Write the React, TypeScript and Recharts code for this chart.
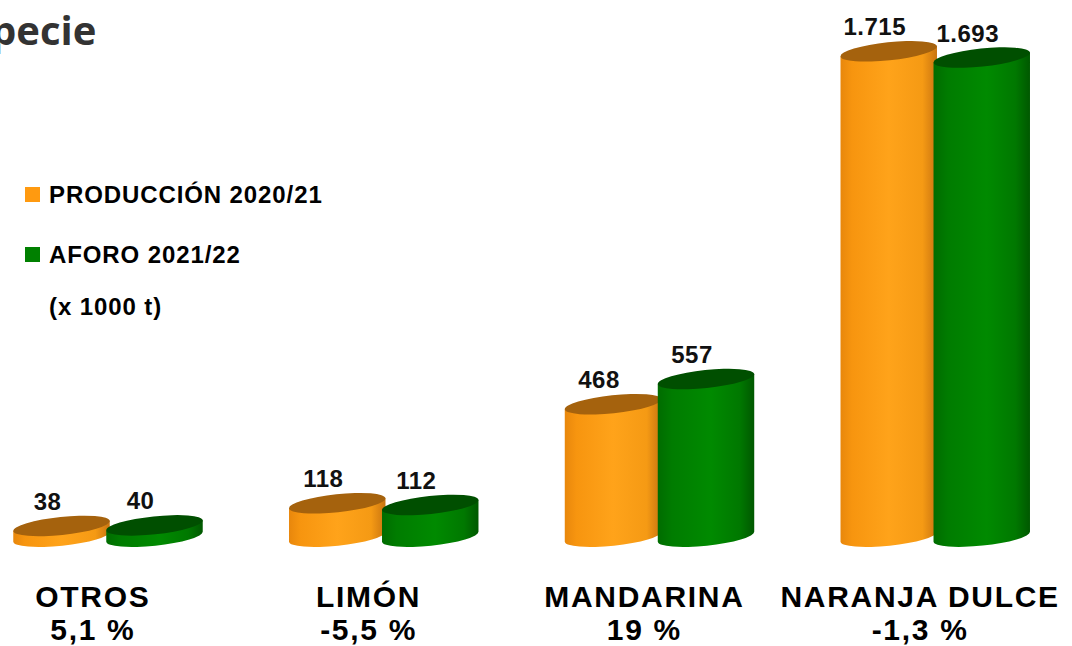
import React from "react";
import { BarChart, Bar, XAxis, YAxis } from "recharts";

const categories = ["OTROS", "LIMÓN", "MANDARINA", "NARANJA DULCE"];
const changes = ["5,1 %", "-5,5 %", "19 %", "-1,3 %"];
const produccion = [38, 118, 468, 1715];
const aforo = [40, 112, 557, 1693];

const SERIES = [
  { key: "produccion", name: "PRODUCCIÓN 2020/21", color: "#ff9a10", top: "#a5620d", grad: "gradOrange" },
  { key: "aforo", name: "AFORO 2021/22", color: "#008000", top: "#004f00", grad: "gradGreen" },
];

const data = categories.map((c, i) => ({
  name: c,
  produccion: produccion[i],
  aforo: aforo[i],
}));

const FONT = "'Liberation Sans', Arial, sans-serif";

// 1715 -> "1.715"
const fmt = (v: number) => String(v).replace(/\B(?=(\d{3})+(?!\d))/g, ".");

const ROT = -6;

function Cylinder(props: any) {
  const { x, y, width, height, grad, top } = props;
  if (width == null || height == null) return null;
  const rx = width / 2;
  const ry = 9;
  const cx = x + rx;
  const bottom = y + height;
  const a = (ROT * Math.PI) / 180;
  const dx = rx * Math.cos(a);
  const dy = rx * Math.sin(a);
  // left end sits lower, right end higher
  const lt = [cx - dx, y - dy];
  const rt = [cx + dx, y + dy];
  const lb = [cx - dx, bottom - dy];
  const rb = [cx + dx, bottom + dy];
  const body = `M${lt[0]},${lt[1]} L${lb[0]},${lb[1]} A${rx},${ry} ${ROT} 0 0 ${rb[0]},${rb[1]} L${rt[0]},${rt[1]} Z`;
  return (
    <g>
      <path d={body} fill={`url(#${grad})`} />
      <ellipse
        cx={cx}
        cy={y}
        rx={rx}
        ry={ry}
        fill={top}
        transform={`rotate(${ROT} ${cx} ${y})`}
      />
    </g>
  );
}

function ValueLabel(props: any) {
  const { x, y, width, value } = props;
  return (
    <text
      x={x + width / 2 - 14}
      y={y - 16}
      textAnchor="middle"
      fontFamily={FONT}
      fontWeight="bold"
      fontSize={24}
      letterSpacing={0.5}
      fill="#111"
    >
      {fmt(value)}
    </text>
  );
}

function CategoryTick(props: any) {
  const { x, y, payload } = props;
  const i = payload.index;
  return (
    <g>
      <text
        x={x - 15}
        y={y + 51}
        textAnchor="middle"
        fontFamily={FONT}
        fontWeight="bold"
        fontSize={30}
        letterSpacing={1.7}
        fill="#000"
      >
        {payload.value}
      </text>
      <text
        x={x - 15}
        y={y + 84}
        textAnchor="middle"
        fontFamily={FONT}
        fontWeight="bold"
        fontSize={30}
        letterSpacing={1.7}
        fill="#000"
      >
        {changes[i]}
      </text>
    </g>
  );
}

function LegendBox() {
  const rows = [
    { color: SERIES[0].color, text: SERIES[0].name, base: 203 },
    { color: SERIES[1].color, text: SERIES[1].name, base: 263 },
  ];
  return (
    <>
      {rows.map((r) => (
        <g key={r.text}>
          <rect x={25} y={r.base - 16} width={15} height={15} fill={r.color} />
          <text
            x={49}
            y={r.base}
            fontFamily={FONT}
            fontWeight="bold"
            fontSize={24}
            letterSpacing={0.9}
            fill="#000"
          >
            {r.text}
          </text>
        </g>
      ))}
      <text
        x={49}
        y={315}
        fontFamily={FONT}
        fontWeight="bold"
        fontSize={24}
        letterSpacing={0.9}
        fill="#000"
      >
        (x 1000 t)
      </text>
    </>
  );
}

export default function App() {
  return (
    <div
      style={{
        position: "absolute",
        left: 0,
        top: 0,
        width: 1072,
        height: 646,
        overflow: "hidden",
        background: "#fff",
      }}
    >
      <svg width={1072} height={646} style={{ position: "absolute", left: 0, top: 0 }}>
        <text
          x={-9}
          y={45}
          fontFamily="'Open Sans', 'Noto Sans', sans-serif"
          fontWeight="bold"
          fontSize={40}
          fill="#333"
        >
          pecie
        </text>
        <LegendBox />
      </svg>
      <div style={{ position: "absolute", left: -30, top: 0 }}>
        <BarChart
          width={1103}
          height={646}
          data={data}
          margin={{ top: 40, right: 0, bottom: 0, left: 0 }}
          barSize={97}
          barGap={-4}
        >
          <defs>
            <linearGradient id="gradOrange" x1="0" y1="0" x2="1" y2="0">
              <stop offset="0" stopColor="#e8870c" />
              <stop offset="0.12" stopColor="#f7950f" />
              <stop offset="0.5" stopColor="#ffa31a" />
              <stop offset="0.85" stopColor="#f59a14" />
              <stop offset="1" stopColor="#c97410" />
            </linearGradient>
            <linearGradient id="gradGreen" x1="0" y1="0" x2="1" y2="0">
              <stop offset="0" stopColor="#006c00" />
              <stop offset="0.15" stopColor="#007c00" />
              <stop offset="0.55" stopColor="#008a00" />
              <stop offset="0.85" stopColor="#007800" />
              <stop offset="1" stopColor="#005800" />
            </linearGradient>
          </defs>
          <XAxis
            dataKey="name"
            axisLine={false}
            tickLine={false}
            height={98}
            interval={0}
            tick={<CategoryTick />}
          />
          {/* padded domain so the cylinder caps are not clipped */}
          <YAxis hide domain={[-40, "dataMax + 40"]} allowDataOverflow />
          {SERIES.map((s) => (
            <Bar
              key={s.key}
              dataKey={s.key}
              name={s.name}
              fill={s.color}
              isAnimationActive={false}
              shape={(p: any) => <Cylinder {...p} grad={s.grad} top={s.top} />}
              label={<ValueLabel />}
            />
          ))}
        </BarChart>
      </div>
    </div>
  );
}
